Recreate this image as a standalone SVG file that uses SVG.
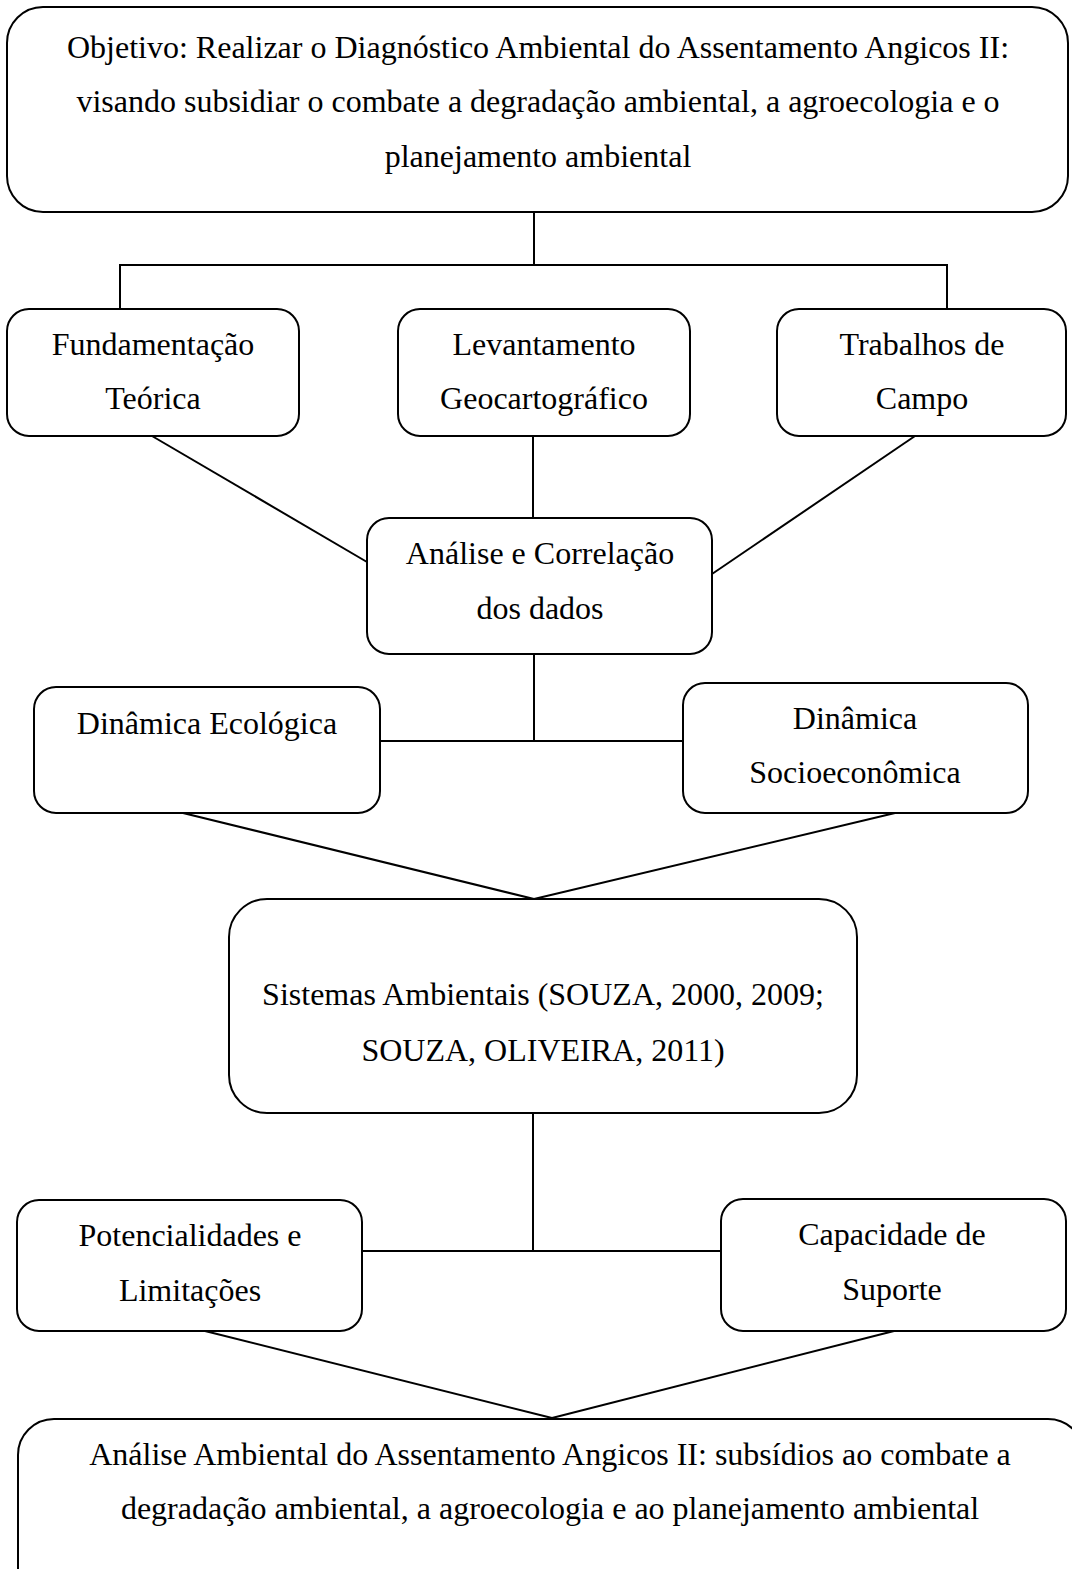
<svg xmlns="http://www.w3.org/2000/svg" width="1072" height="1569" viewBox="0 0 1072 1569">
<style>
.box{fill:#fff;stroke:#000;stroke-width:2}
.ln{stroke:#000;stroke-width:2;fill:none}
text{font-family:"Liberation Serif","Times New Roman",serif;font-size:32px;fill:#000;text-anchor:middle}
</style>
<rect width="1072" height="1569" fill="#fff"/>
<g id="connectors">
<polyline class="ln" points="534,212 534,265"/>
<polyline class="ln" points="120,309 120,265 947,265 947,309"/>
<line class="ln" x1="152" y1="436" x2="367" y2="562"/>
<line class="ln" x1="533" y1="436" x2="533" y2="518"/>
<line class="ln" x1="915" y1="436" x2="712" y2="574"/>
<line class="ln" x1="534" y1="654" x2="534" y2="741"/>
<line class="ln" x1="376" y1="741" x2="683" y2="741"/>
<line class="ln" x1="183" y1="813" x2="534" y2="899"/>
<line class="ln" x1="895" y1="813" x2="534" y2="899"/>
<line class="ln" x1="533" y1="1113" x2="533" y2="1251"/>
<line class="ln" x1="362" y1="1251" x2="721" y2="1251"/>
<line class="ln" x1="205" y1="1331" x2="552" y2="1418"/>
<line class="ln" x1="894" y1="1331" x2="552" y2="1418"/>
</g>
<g id="objetivo">
<rect class="box" x="7" y="7" width="1061" height="205" rx="36" ry="36"/>
<text x="538" y="58">Objetivo: Realizar o Diagnóstico Ambiental do Assentamento Angicos II:</text>
<text x="538" y="112">visando subsidiar o combate a degradação ambiental, a agroecologia e o</text>
<text x="538" y="167">planejamento ambiental</text>
</g>
<g id="fundamentacao">
<rect class="box" x="7" y="309" width="292" height="127" rx="22" ry="22"/>
<text x="153" y="355">Fundamentação</text>
<text x="153" y="409">Teórica</text>
</g>
<g id="levantamento">
<rect class="box" x="398" y="309" width="292" height="127" rx="22" ry="22"/>
<text x="544" y="355">Levantamento</text>
<text x="544" y="409">Geocartográfico</text>
</g>
<g id="trabalhos">
<rect class="box" x="777" y="309" width="289" height="127" rx="22" ry="22"/>
<text x="922" y="355">Trabalhos de</text>
<text x="922" y="409">Campo</text>
</g>
<g id="analise">
<rect class="box" x="367" y="518" width="345" height="136" rx="22" ry="22"/>
<text x="540" y="564">Análise e Correlação</text>
<text x="540" y="619">dos dados</text>
</g>
<g id="dinamica-ecologica">
<rect class="box" x="34" y="687" width="346" height="126" rx="22" ry="22"/>
<text x="207" y="734">Dinâmica Ecológica</text>
</g>
<g id="dinamica-socioeconomica">
<rect class="box" x="683" y="683" width="345" height="130" rx="22" ry="22"/>
<text x="855" y="729">Dinâmica</text>
<text x="855" y="783">Socioeconômica</text>
</g>
<g id="sistemas">
<rect class="box" x="229" y="899" width="628" height="214" rx="38" ry="38"/>
<text x="543" y="1005">Sistemas Ambientais (SOUZA, 2000, 2009;</text>
<text x="543" y="1061">SOUZA, OLIVEIRA, 2011)</text>
</g>
<g id="potencialidades">
<rect class="box" x="17" y="1200" width="345" height="131" rx="22" ry="22"/>
<text x="190" y="1246">Potencialidades e</text>
<text x="190" y="1301">Limitações</text>
</g>
<g id="capacidade">
<rect class="box" x="721" y="1199" width="345" height="132" rx="22" ry="22"/>
<text x="892" y="1245">Capacidade de</text>
<text x="892" y="1300">Suporte</text>
</g>
<g id="analise-ambiental">
<rect class="box" x="18" y="1419" width="1066" height="200" rx="36" ry="36"/>
<text x="550" y="1465">Análise Ambiental do Assentamento Angicos II: subsídios ao combate a</text>
<text x="550" y="1519">degradação ambiental, a agroecologia e ao planejamento ambiental</text>
</g>
</svg>
